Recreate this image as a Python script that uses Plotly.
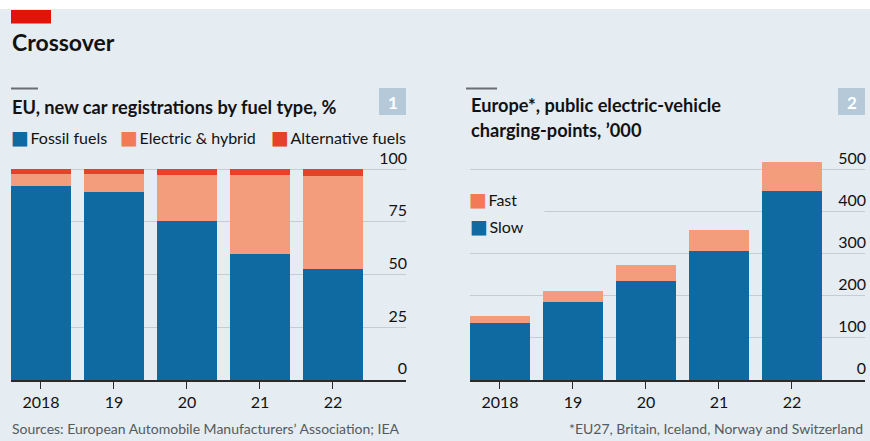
import plotly.graph_objects as go

# ---------------- data ----------------
years = ["2018", "19", "20", "21", "22"]
fossil = [92.2, 89.2, 75.3, 59.9, 52.7]
electric_hybrid = [5.6, 8.4, 22.2, 37.3, 43.9]
alternative = [2.2, 2.4, 2.5, 2.8, 3.4]

slow = [136, 186, 235, 307, 449]
fast = [16, 25, 39, 49, 69]

left_ticks = [0, 25, 50, 75, 100]
right_ticks = [0, 100, 200, 300, 400, 500]

# ---------------- style ----------------
W, H = 870, 441
BG = "#e5ecf2"
BLUE = "#0f6aa1"
SALMON = "#f39d7c"
RED = "#e8412b"
KEY_SALMON = "#f27a58"
GRID = "#c3cdd6"
FONT = "Lato"
DARK = "#121212"


def px(x):
    return x / W


def py(y):
    return 1 - y / H


fig = go.Figure()

fig.add_trace(go.Bar(x=years, y=fossil, name="Fossil fuels", marker=dict(color=BLUE, line_width=0),
                     xaxis="x", yaxis="y", showlegend=False))
fig.add_trace(go.Bar(x=years, y=electric_hybrid, name="Electric & hybrid", marker=dict(color=SALMON, line_width=0),
                     xaxis="x", yaxis="y", showlegend=False))
fig.add_trace(go.Bar(x=years, y=alternative, name="Alternative fuels", marker=dict(color=RED, line_width=0),
                     xaxis="x", yaxis="y", showlegend=False))

fig.add_trace(go.Bar(x=years, y=slow, name="Slow", marker=dict(color=BLUE, line_width=0),
                     xaxis="x2", yaxis="y2", showlegend=False))
fig.add_trace(go.Bar(x=years, y=fast, name="Fast", marker=dict(color=SALMON, line_width=0),
                     xaxis="x2", yaxis="y2", showlegend=False))

# y=0 at pixel 380; 100% at pixel 169.3 ; 500 at 169.3
L_TOP = 112
R_TOP = 560
ydom = [py(380), py(380 - L_TOP * 2.107)]

common_x = dict(
    type="category", range=[-0.41, 5.0], showgrid=False, showline=True, linecolor="#2a2a2a", linewidth=1.5,
    ticks="outside", ticklen=7, tickwidth=1.3, tickcolor="#2a2a2a",
    tickfont=dict(family=FONT, size=16, color=DARK), fixedrange=True,
)
common_y = dict(
    side="right", ticklabelposition="inside top", ticklabelstandoff=-4, showgrid=True, gridcolor=GRID,
    gridwidth=1.2, zeroline=False, showline=False, ticks="", tickfont=dict(family=FONT, size=16, color=DARK),
    fixedrange=True,
)

fig.update_layout(
    width=W, height=H, paper_bgcolor=BG, plot_bgcolor=BG,
    margin=dict(l=0, r=0, t=0, b=0),
    barmode="stack", bargap=13 / 73,
    xaxis=dict(domain=[px(11), px(406)], anchor="y", **common_x),
    yaxis=dict(domain=ydom, anchor="x", range=[0, L_TOP], tickvals=left_ticks, **common_y),
    xaxis2=dict(domain=[px(470), px(865)], anchor="y2", **common_x),
    yaxis2=dict(domain=ydom, anchor="x2", range=[0, R_TOP], tickvals=right_ticks, **common_y),
)

shapes = [
    # white strip at top
    dict(type="rect", xref="paper", yref="paper", x0=0, x1=1, y0=py(9), y1=1,
         fillcolor="white", line_width=0, layer="below"),
    # red tag
    dict(type="rect", xref="paper", yref="paper", x0=px(11), x1=px(51), y0=py(23.5), y1=py(10),
         fillcolor="#e3120b", line_width=0),
    # grey rules above subtitles
    dict(type="rect", xref="paper", yref="paper", x0=px(11), x1=px(38), y0=py(89.5), y1=py(87.5),
         fillcolor="#6b6f73", line_width=0),
    dict(type="rect", xref="paper", yref="paper", x0=px(466), x1=px(497), y0=py(89.5), y1=py(87.5),
         fillcolor="#6b6f73", line_width=0),
    # number boxes
    dict(type="rect", xref="paper", yref="paper", x0=px(379), x1=px(406), y0=py(115), y1=py(88),
         fillcolor="#b5c9d8", line_width=0),
    dict(type="rect", xref="paper", yref="paper", x0=px(838), x1=px(865), y0=py(115), y1=py(88),
         fillcolor="#b5c9d8", line_width=0),
]
fig.update_layout(shapes=shapes)


def ann(text, x, y, size, color=DARK, xanchor="left", bold=False, **kw):
    t = f"<b>{text}</b>" if bold else text
    fig.add_annotation(text=t, x=px(x), y=py(y), xref="paper", yref="paper", xanchor=xanchor,
                       yanchor="middle", showarrow=False, font=dict(family=FONT, size=size, color=color),
                       align="left", **kw)


def key(color, label):
    return (f"<span style='font-family:DejaVu Sans;font-size:19px;color:{color}'>■</span>"
            f"<span style='font-size:6px'> </span>{label}")


ann("Crossover", 10, 42, 23, bold=True)
ann("EU, new car registrations by fuel type, %", 10, 107, 18.2, bold=True)
ann("Europe*, public electric-vehicle", 469, 105, 18.2, bold=True)
ann("charging-points, ’000", 469, 130, 18.2, bold=True)
ann("1", 392.5, 102, 17, color="white", xanchor="center", bold=True)
ann("2", 851.5, 102, 17, color="white", xanchor="center", bold=True)

ann(key(BLUE, "Fossil fuels"), 9, 137, 16)
ann(key(KEY_SALMON, "Electric & hybrid"), 118, 137, 16)
ann(key(RED, "Alternative fuels"), 269, 137, 16)

ann(key(KEY_SALMON, "Fast"), 468, 199, 16, bgcolor=BG, width=75, height=26, borderpad=0)
ann(key(BLUE, "Slow"), 468, 226, 16)

ann("Sources: European Automobile Manufacturers’ Association; IEA", 10, 428, 14, color="#555a5e")
ann("*EU27, Britain, Iceland, Norway and Switzerland", 865, 428, 14, color="#555a5e", xanchor="right")

fig.write_html(
    "out.html",
    config={"displayModeBar": False},
    post_script="document.body.style.margin='0';document.body.style.overflow='hidden';",
)
